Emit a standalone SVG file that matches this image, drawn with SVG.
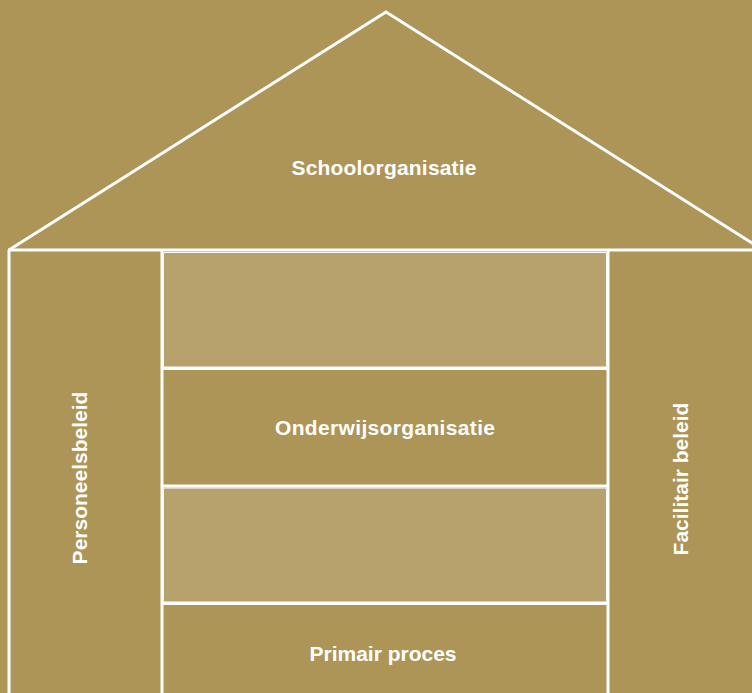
<svg xmlns="http://www.w3.org/2000/svg" width="752" height="693" viewBox="0 0 752 693">
  <style>
    .line { fill: none; stroke: #ffffff; stroke-width: 3; stroke-linejoin: miter; }
    .panel { fill: #B7A26D; stroke: #ffffff; stroke-width: 1; }
    .label { font-family: "Liberation Sans", Arial, sans-serif; font-size: 21px; font-weight: bold; fill: #ffffff; text-anchor: middle; }
  </style>

  <!-- background -->
  <rect x="0" y="0" width="752" height="693" fill="#AD9558"/>

  <!-- roof -->
  <g id="roof">
    <polyline class="line" points="9,250 386,12 763,250"/>
    <line class="line" x1="8" y1="250" x2="752" y2="250"/>
    <text class="label" x="384" y="175" textLength="185">Schoolorganisatie</text>
  </g>

  <!-- left pillar -->
  <g id="personeelsbeleid">
    <line class="line" x1="9" y1="250" x2="9" y2="693"/>
    <line class="line" x1="162" y1="250" x2="162" y2="693"/>
    <text class="label" transform="translate(87,478) rotate(-90)">Personeelsbeleid</text>
  </g>

  <!-- right pillar -->
  <g id="facilitair-beleid">
    <line class="line" x1="608" y1="250" x2="608" y2="693"/>
    <text class="label" transform="translate(688,479) rotate(-90)">Facilitair beleid</text>
  </g>

  <!-- middle rows -->
  <g id="row-top">
    <rect class="panel" x="163.5" y="252.5" width="443" height="114.5" rx="1.5"/>
  </g>
  <g id="onderwijsorganisatie">
    <line class="line" x1="162" y1="368.5" x2="608" y2="368.5"/>
    <text class="label" x="385" y="435" textLength="220">Onderwijsorganisatie</text>
    <line class="line" x1="162" y1="486" x2="608" y2="486"/>
  </g>
  <g id="row-lower">
    <rect class="panel" x="163.5" y="488" width="443" height="114" rx="1.5"/>
  </g>
  <g id="primair-proces">
    <line class="line" x1="162" y1="603.5" x2="608" y2="603.5"/>
    <text class="label" x="383" y="661">Primair proces</text>
  </g>

  <!-- connectors (none drawn) -->
  <g id="connectors"/>
</svg>
